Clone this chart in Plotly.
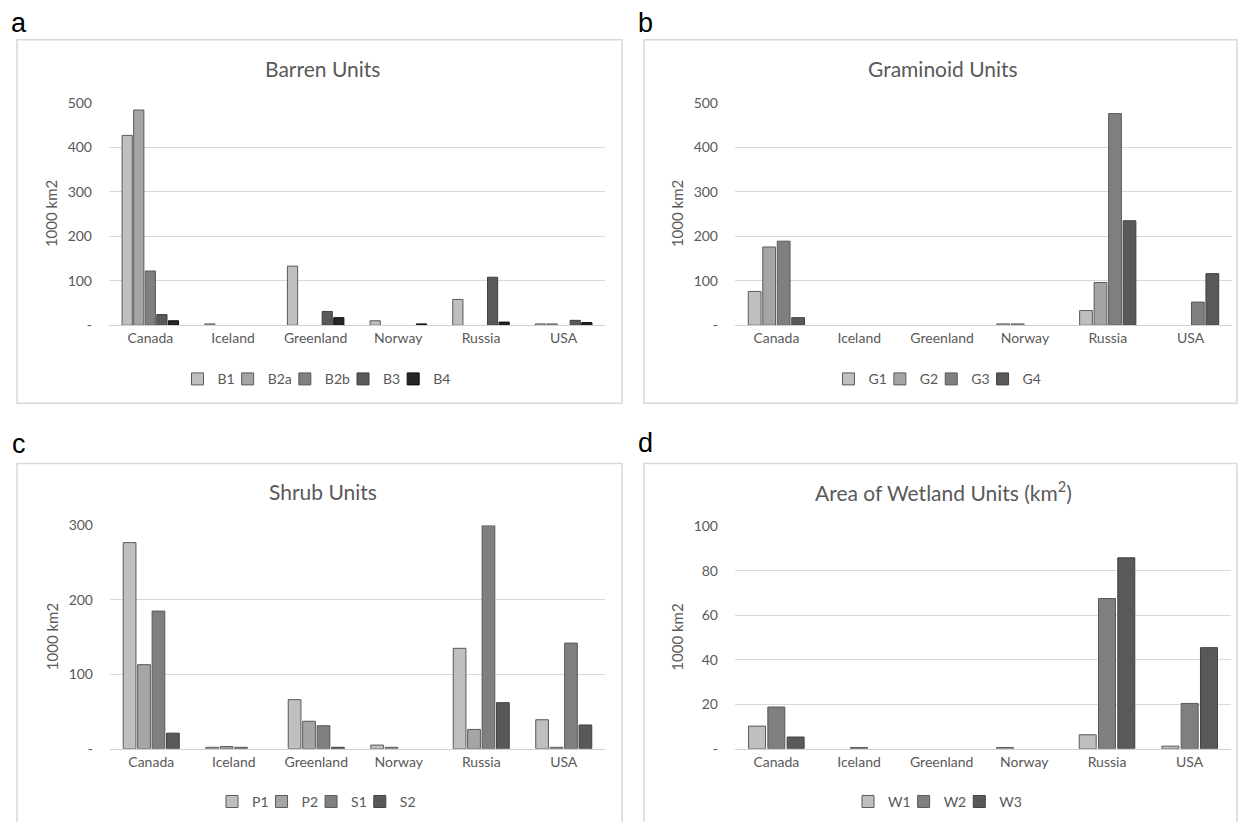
import plotly.graph_objects as go

countries = ["Canada", "Iceland", "Greenland", "Norway", "Russia", "USA"]

# Panel a: Barren units (1000 km2)
barren_names = ["B1", "B2a", "B2b", "B3", "B4"]
B1 = [427, 3, 133, 10, 58, 3]
B2a = [484, 0, 0, 0, 0, 3]
B2b = [122, 0, 0, 0, 0, 0]
B3 = [24, 0, 31, 0, 108, 11]
B4 = [10, 0, 17, 3, 7, 6]

# Panel b: Graminoid units
gram_names = ["G1", "G2", "G3", "G4"]
G1 = [76, 0, 0, 3, 33, 0]
G2 = [176, 0, 0, 3, 96, 0]
G3 = [189, 0, 0, 0, 476, 52]
G4 = [17, 0, 0, 0, 235, 116]

# Panel c: Shrub units
shrub_names = ["P1", "P2", "S1", "S2"]
P1 = [277, 2, 66, 5, 135, 39]
P2 = [113, 3, 37, 2, 26, 2]
S1 = [185, 2, 31, 0, 300, 142]
S2 = [21, 0, 2, 0, 62, 32]

# Panel d: Wetland units
wet_names = ["W1", "W2", "W3"]
W1 = [10.2, 0, 0, 0.6, 6.3, 1.2]
W2 = [18.8, 0.6, 0, 0, 67.6, 20.4]
W3 = [5.3, 0, 0, 0, 85.9, 45.5]

W, H = 1239, 822
FONT = "Lato, Carlito, Calibri, sans-serif"
GRAY = "#595959"


def px_x(x):
    return x / W


def px_y(y):
    # compensate the vertical mapping observed in the rendered page
    y_page = (y - 9.2) / 0.978
    return 1 - y_page / H


fig = go.Figure()

panels = [
    dict(names=barren_names, data=[B1, B2a, B2b, B3, B4],
         colors=["#bfbfbf", "#a5a5a5", "#7f7f7f", "#595959", "#262626"],
         lines=["#595959", "#595959", "#595959", "#404040", "#0d0d0d"],
         ax="", title="Barren Units", ymax=500, step=100,
         xdom=(109, 605), ytop=103, ybase=325, legend="legend",
         legy=379, titley=69, frame=(17, 40, 622, 403), label="a", labpos=(19, 23)),
    dict(names=gram_names, data=[G1, G2, G3, G4],
         colors=["#bfbfbf", "#a5a5a5", "#7f7f7f", "#595959"],
         lines=["#595959", "#595959", "#595959", "#404040"],
         ax="2", title="Graminoid Units", ymax=500, step=100,
         xdom=(735, 1232), ytop=103, ybase=325, legend="legend2",
         legy=379, titley=69, frame=(644, 40, 1237, 403), label="b", labpos=(645, 23)),
    dict(names=shrub_names, data=[P1, P2, S1, S2],
         colors=["#bfbfbf", "#a5a5a5", "#7f7f7f", "#595959"],
         lines=["#595959", "#595959", "#595959", "#404040"],
         ax="3", title="Shrub Units", ymax=300, step=100,
         xdom=(110, 605), ytop=525, ybase=748, legend="legend3",
         legy=801, titley=491, frame=(17, 463, 622, 840), label="c", labpos=(19, 444)),
    dict(names=wet_names, data=[W1, W2, W3],
         colors=["#bfbfbf", "#7f7f7f", "#595959"],
         lines=["#595959", "#595959", "#404040"],
         ax="4", title="Area of Wetland Units (km<sup>2</sup>)", ymax=100, step=20,
         xdom=(735, 1231), ytop=526, ybase=748, legend="legend4",
         legy=801, titley=491, frame=(644, 463, 1237, 840), label="d", labpos=(645, 443)),
]

shapes = []
annotations = []
layout_axes = {}

for p in panels:
    ax = p["ax"]
    fx0, fy0, fx1, fy1 = p["frame"]
    fcx = (fx0 + fx1) / 2 + 3
    for name, vals, col, lc in zip(p["names"], p["data"], p["colors"], p["lines"]):
        fig.add_trace(go.Bar(
            x=countries, y=[v if v else None for v in vals], name=name,
            marker=dict(color=col, line=dict(color=lc, width=1)),
            xaxis="x" + ax, yaxis="y" + ax, legend=p["legend"],
        ))
    tickvals = list(range(0, p["ymax"] + 1, p["step"]))
    ticktext = ["-"] + [str(v) for v in tickvals[1:]]
    layout_axes["xaxis" + ax] = dict(
        domain=[px_x(p["xdom"][0]), px_x(p["xdom"][1])],
        anchor="y" + ax, showgrid=False, showline=True, linecolor="#d0d0d0",
        linewidth=1, ticks="", tickfont=dict(family=FONT, size=14, color=GRAY),
        fixedrange=True,
    )
    layout_axes["yaxis" + ax] = dict(
        domain=[px_y(p["ybase"]), px_y(p["ytop"])],
        anchor="x" + ax, range=[0, p["ymax"]], tickvals=tickvals, ticktext=ticktext,
        showgrid=True, gridcolor="#d9d9d9", gridwidth=1, zeroline=False,
        showline=False, ticks="", tickfont=dict(family=FONT, size=14, color=GRAY),
        ticklabelstandoff=16,
    )
    layout_axes[p["legend"]] = dict(
        orientation="h", x=px_x(fcx), y=px_y(p["legy"]),
        xanchor="center", yanchor="middle", xref="paper", yref="paper",
        font=dict(family=FONT, size=14, color=GRAY), bgcolor="rgba(0,0,0,0)",
        itemwidth=30, tracegroupgap=0, traceorder="normal", indentation=-12,
    )
    shapes.append(dict(type="rect", xref="paper", yref="paper",
                       x0=px_x(fx0), x1=px_x(fx1), y0=px_y(fy1), y1=px_y(fy0),
                       line=dict(color="#d9d9d9", width=1.5), fillcolor="rgba(0,0,0,0)",
                       layer="below"))
    annotations.append(dict(text=p["title"], xref="paper", yref="paper",
                            x=px_x(fcx), y=px_y(p["titley"]),
                            xanchor="center", yanchor="middle", showarrow=False,
                            font=dict(family=FONT, size=21, color=GRAY)))
    annotations.append(dict(text="1000 km2", xref="paper", yref="paper",
                            x=px_x(p["xdom"][0] - 58), y=(px_y(p["ybase"]) + px_y(p["ytop"])) / 2,
                            xanchor="center", yanchor="middle", textangle=-90, showarrow=False,
                            font=dict(family=FONT, size=15, color=GRAY)))
    annotations.append(dict(text=p["label"], xref="paper", yref="paper",
                            x=px_x(p["labpos"][0]), y=px_y(p["labpos"][1]),
                            xanchor="center", yanchor="middle", showarrow=False,
                            font=dict(family="Liberation Sans, Arial, sans-serif", size=27, color="#000000")))

fig.update_layout(
    width=W, height=H, margin=dict(l=0, r=0, t=0, b=0),
    paper_bgcolor="white", plot_bgcolor="white",
    barmode="group", bargap=0.3, bargroupgap=0.12,
    shapes=shapes, annotations=annotations,
    **layout_axes,
)

fig.write_html("out.html", config={"displayModeBar": False},
               post_script="document.body.style.margin='0';")
